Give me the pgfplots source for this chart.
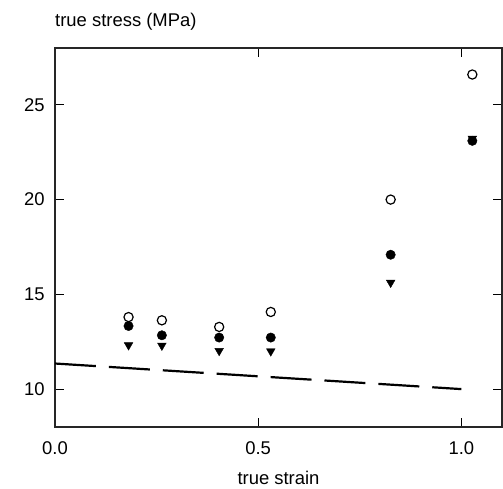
\documentclass[border=0pt]{standalone}
\usepackage{fontspec}
\setmainfont{Liberation Sans}
\usepackage{pgfplots}
\pgfplotsset{compat=1.18}
\begin{document}
\fontsize{18.5}{22}\selectfont
\begin{tikzpicture}
\begin{axis}[
 name=ax,
 scale only axis, width=447bp, height=379bp,
 xmin=0, xmax=1.1, ymin=8, ymax=28,
 xtick={0,0.5,1}, ytick={10,15,20,25},
 xticklabels={0.0,0.5,1.0},
 yticklabels={10,15,20,25},
 tick align=inside, major tick length=9bp,
 tick style={black, line width=1pt},
 axis line style={line width=1.2pt, black!85},
 ticklabel style={font=\fontsize{18.5}{22}\selectfont},
 xticklabel style={yshift=-8bp},
 yticklabel style={xshift=-4bp},
 clip=false,
]
\addplot[only marks, mark=o, mark size=4.6bp, mark options={line width=1.2pt, black}]
 coordinates {(0.181,13.80) (0.263,13.63) (0.404,13.28) (0.531,14.07) (0.826,20.0) (1.027,26.6)};
\addplot[only marks, mark=triangle*, mark size=5bp, mark options={rotate=180, black, fill=black}]
 coordinates {(0.181,12.32) (0.263,12.30) (0.404,12.02) (0.531,12.0) (0.826,15.62) (1.027,23.22)};
\addplot[only marks, mark=*, mark size=4.7bp, mark options={black, fill=black}]
 coordinates {(0.181,13.33) (0.263,12.84) (0.404,12.72) (0.531,12.72) (0.826,17.09) (1.027,23.1)};
\addplot[black, line width=2.2bp, dash pattern=on 41bp off 13bp]
 coordinates {(0,11.35) (1.0,10.0)};
\end{axis}
\node[anchor=base west, inner sep=0pt] at ([yshift=21bp]ax.north west) {true stress (MPa)};
\node[anchor=base, inner sep=0pt] at ([yshift=-57bp]ax.south) {true strain};
\path ([shift={(-55bp,-62bp)}]ax.south west) rectangle ([shift={(1bp,48bp)}]ax.north east);
\end{tikzpicture}
\end{document}
